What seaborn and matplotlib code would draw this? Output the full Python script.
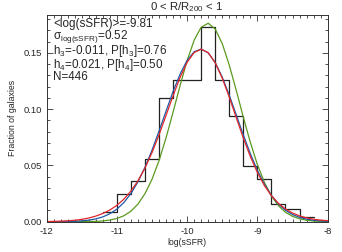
import numpy as np
import pandas as pd
import matplotlib
matplotlib.use("Agg")
import matplotlib.pyplot as plt
from matplotlib.ticker import MultipleLocator
import seaborn as sns

# =========================================
# DATA
# =========================================

bin_edges = [-11.2, -11.0, -10.8, -10.6, -10.4, -10.2, -10.0, -9.8,
             -9.6, -9.4, -9.2, -9.0, -8.8, -8.6, -8.4, -8.2]
bin_counts = [4, 11, 16, 25, 49, 56, 56, 77, 56, 42, 22, 17, 7, 5, 2]
n_gal = 446

x_grid = [-12.0, -11.9, -11.8, -11.7, -11.6, -11.5, -11.4, -11.3, -11.2, -11.1,
          -11.0, -10.9, -10.8, -10.7, -10.6, -10.5, -10.4, -10.3, -10.2, -10.1,
          -10.0, -9.9, -9.8, -9.7, -9.6, -9.5, -9.4, -9.3, -9.2, -9.1,
          -9.0, -8.9, -8.8, -8.7, -8.6, -8.5, -8.4, -8.3, -8.2, -8.1, -8.0]

gauss_blue = [0.0000, 0.0000, 0.0001, 0.0002, 0.0004, 0.0008, 0.0014, 0.0025, 0.0043, 0.0071,
              0.0112, 0.0171, 0.0251, 0.0355, 0.0484, 0.0636, 0.0806, 0.0984, 0.1158, 0.1313,
              0.1435, 0.1511, 0.1534, 0.1500, 0.1414, 0.1284, 0.1124, 0.0948, 0.0771, 0.0604,
              0.0456, 0.0332, 0.0233, 0.0157, 0.0102, 0.0064, 0.0039, 0.0023, 0.0013, 0.0007,
              0.0004]

hermite_red = [0.0001, 0.0003, 0.0005, 0.0008, 0.0013, 0.0021, 0.0033, 0.0050, 0.0073, 0.0104,
               0.0146, 0.0201, 0.0273, 0.0364, 0.0478, 0.0615, 0.0773, 0.0946, 0.1120, 0.1283,
               0.1417, 0.1504, 0.1534, 0.1502, 0.1412, 0.1275, 0.1106, 0.0923, 0.0743, 0.0578,
               0.0437, 0.0321, 0.0231, 0.0163, 0.0113, 0.0077, 0.0052, 0.0034, 0.0022, 0.0014,
               0.0009]

gauss_green = [0.0000, 0.0000, 0.0000, 0.0000, 0.0000, 0.0001, 0.0002, 0.0003, 0.0007, 0.0015,
               0.0029, 0.0053, 0.0094, 0.0157, 0.0250, 0.0378, 0.0544, 0.0747, 0.0975, 0.1212,
               0.1433, 0.1614, 0.1729, 0.1764, 0.1712, 0.1582, 0.1391, 0.1165, 0.0928, 0.0704,
               0.0508, 0.0349, 0.0228, 0.0142, 0.0084, 0.0048, 0.0026, 0.0013, 0.0006, 0.0003,
               0.0001]

stats_lines = [
    "<log(sSFR)>=-9.81",
    r"σ$_{log(sSFR)}$=0.52",
    r"h$_3$=-0.011, P[h$_3$]=0.76",
    r"h$_4$=0.021, P[h$_4$]=0.50",
    "N=446",
]

# =========================================
# STYLE
# =========================================

sns.set_style("ticks")
plt.rcParams["font.family"] = ["Liberation Sans", "DejaVu Sans"]
plt.rcParams["mathtext.default"] = "regular"
plt.rcParams["axes.unicode_minus"] = False

fig = plt.figure(figsize=(3.42, 2.52), dpi=100)
ax = fig.add_axes([0.1365, 0.1202, 0.8215, 0.8215])

# =========================================
# HISTOGRAM
# =========================================

edges = np.array(bin_edges)
centers = (edges[:-1] + edges[1:]) / 2
hist_df = pd.DataFrame({"x": centers, "frac": np.array(bin_counts) / n_gal})

sns.histplot(data=hist_df, x="x", weights="frac", bins=list(bin_edges),
             element="step", fill=False, color="#222222", linewidth=0.9, ax=ax)

# =========================================
# FITTED CURVES
# =========================================

curves = pd.DataFrame({"x": x_grid, "green": gauss_green,
                       "blue": gauss_blue, "red": hermite_red})

sns.lineplot(data=curves, x="x", y="green", color="#5a9a1e", linewidth=0.9, ax=ax)
sns.lineplot(data=curves, x="x", y="blue", color="#1f5aa6", linewidth=0.9, ax=ax)
sns.lineplot(data=curves, x="x", y="red", color="#e3262a", linewidth=0.9, ax=ax)

# =========================================
# AXES
# =========================================

ax.set_xlim(-12, -8)
ax.set_ylim(0, 0.184)
ax.set_xticks([-12, -11, -10, -9, -8])
ax.set_yticks([0.00, 0.05, 0.10, 0.15])
ax.set_yticklabels(["0.00", "0.05", "0.10", "0.15"])
ax.xaxis.set_minor_locator(MultipleLocator(0.1))
ax.yaxis.set_minor_locator(MultipleLocator(0.01))
ax.tick_params(which="both", direction="in", top=True, right=True,
               labelsize=6.8, width=0.6, color="#333333", pad=3.5)
ax.tick_params(which="major", length=4.5)
ax.tick_params(which="minor", length=2.3)
for sp in ax.spines.values():
    sp.set_linewidth(0.7)
    sp.set_color("#333333")

ax.set_xlabel("log(sSFR)", fontsize=6.2, labelpad=1.5)
ax.set_ylabel("Fraction of galaxies", fontsize=6.3, labelpad=5)
ax.set_title(r"0 < R/R$_{200}$ < 1", fontsize=8.2, pad=3)

# stats block as one tightly stacked text
ax.text(0.024, 0.985, "\n".join(stats_lines), transform=ax.transAxes,
        fontsize=8.4, va="top", ha="left", linespacing=0.82)

plt.savefig("out.png", dpi=100)
